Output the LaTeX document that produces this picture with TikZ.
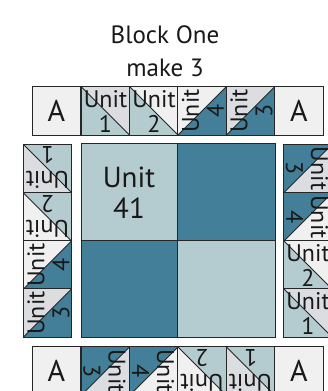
\documentclass[tikz,border=0pt]{standalone}
\usepackage{fontspec}
\setmainfont{PT Sans}
\definecolor{paleteal}{HTML}{B4CBD0}
\definecolor{deepteal}{HTML}{437F99}
\definecolor{palegrey}{HTML}{DCDDE0}
\definecolor{offwhite}{HTML}{F0F0F0}
\tikzset{
  patch/.style={draw=black!85,line width=1pt},
  unitlabel/.style={align=center,inner sep=0pt,font=\fontsize{24}{25}\selectfont,text=black!90},
  bigletter/.style={inner sep=0pt,font=\fontsize{30}{30}\selectfont,text=black!90},
  titletext/.style={align=center,inner sep=0pt,font=\fontsize{25}{33}\selectfont,text=black!90},
}
\begin{document}
\begin{tikzpicture}[x=1pt,y=1pt]
      \useasboundingbox (0,0) rectangle (328,391);
      \clip (0,0) rectangle (328,391);
      \fill[white] (0,0) rectangle (328,391);
      % title
      \node[titletext] (title) at (165,340) {Block One\\make 3};
      % centre
      \draw[patch,fill=paleteal] (81,150) rectangle (177.5,247);
      \draw[patch,fill=deepteal] (177.5,150) rectangle (275,247);
      \draw[patch,fill=deepteal] (81,53.5) rectangle (177.5,150);
      \draw[patch,fill=paleteal] (177.5,53.5) rectangle (275,150);
      \node[align=center,inner sep=0pt,font=\fontsize{29}{31}\selectfont,text=black!90] (big) at (129,198) {Unit\\41};
      % plain corners
      \foreach \x/\y/\n in {56.5/280/a1,299/280/a2,56.5/20/a3,299/20/a4} {
        \draw[patch,fill=offwhite] (\x-24.3,\y-24.3) rectangle (\x+24.3,\y+24.3);
        \node[bigletter] (\n) at (\x,\y) {A};
      }
      % triangle units
      \foreach \x/\y/\r/\ca/\cb/\m/\n in {
        105.5/280/0/paleteal/palegrey/1/ta,
        154/280/0/paleteal/offwhite/2/tb,
        202/280/90/deepteal/offwhite/4/tc,
        250.5/280/90/deepteal/palegrey/3/td,
        47.5/222.5/180/paleteal/palegrey/1/la,
        47.5/174/180/paleteal/offwhite/2/lb,
        47.5/126/90/deepteal/offwhite/4/lc,
        47.5/78/90/deepteal/palegrey/3/ld,
        308/222.5/-90/deepteal/palegrey/3/ra,
        308/174/-90/deepteal/offwhite/4/rb,
        308/126/0/paleteal/offwhite/2/rc,
        308/78/0/paleteal/palegrey/1/rd,
        105.5/20/-90/deepteal/palegrey/3/ba,
        154/20/-90/deepteal/offwhite/4/bb,
        202/20/180/paleteal/offwhite/2/bc,
        250.5/20/180/paleteal/palegrey/1/bd} {
        \begin{scope}[shift={(\x,\y)},rotate=\r]
          \fill[\ca] (-24.3,24.3) -- (24.3,-24.3) -- (-24.3,-24.3) -- cycle;
          \fill[\cb] (-24.3,24.3) -- (24.3,-24.3) -- (24.3,24.3) -- cycle;
          \draw[patch] (-24.3,-24.3) rectangle (24.3,24.3);
          \draw[patch] (-24.3,24.3) -- (24.3,-24.3);
          \node[unitlabel,rotate=\r] (\n) at (0,-1) {Unit\\\m};
        \end{scope}
      }
    \end{tikzpicture}
\end{document}
